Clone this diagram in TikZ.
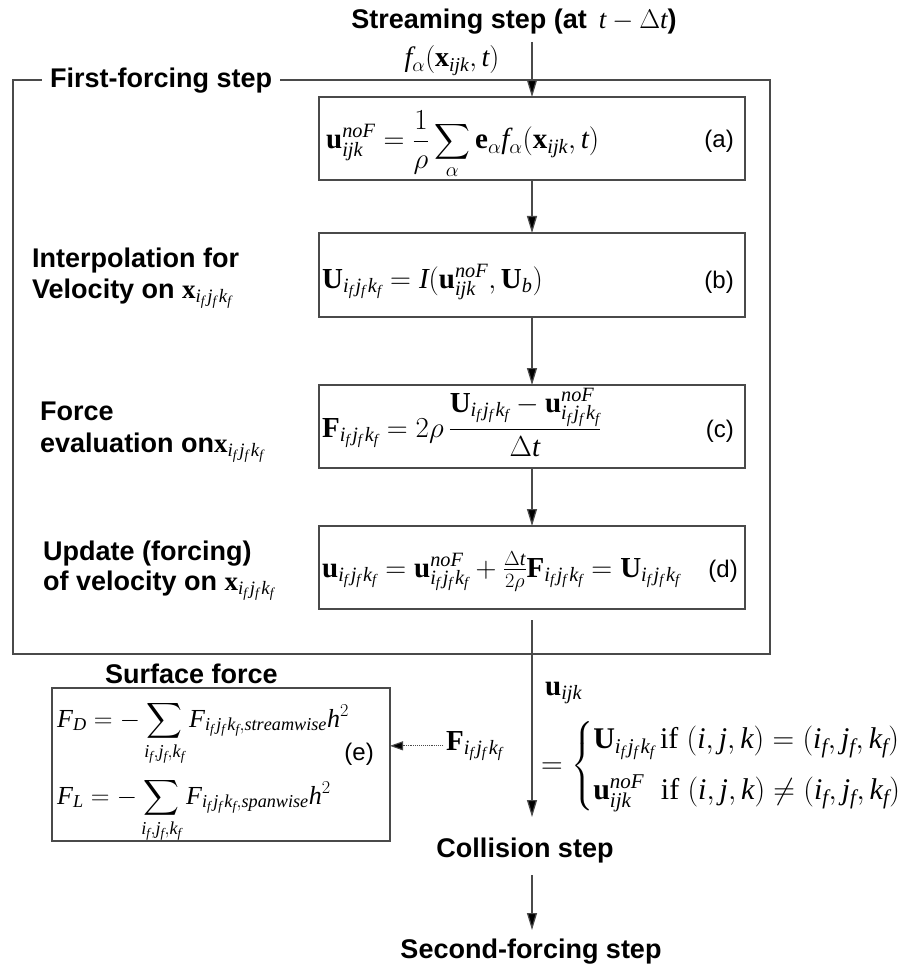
\RequirePackage{fix-cm}
\documentclass[tikz,border=0pt]{standalone}
\usepackage{amsmath}
\usepackage[no-math]{fontspec}
\setmainfont{Liberation Sans}
\newfontfamily\tnr{Liberation Serif}[NFSSFamily=tnrx]
\DeclareSymbolFont{tletters}{TU}{tnrx}{m}{it}
\newcount\lettercnt
\lettercnt=`a
\loop
  \mathcode\lettercnt=\numexpr "7000+\symtletters*"100+\lettercnt\relax
  \advance\lettercnt by 1
\ifnum\lettercnt<123 \repeat
\lettercnt=`A
\loop
  \mathcode\lettercnt=\numexpr "7000+\symtletters*"100+\lettercnt\relax
  \advance\lettercnt by 1
\ifnum\lettercnt<91 \repeat
\usetikzlibrary{arrows.meta}
\newcommand{\bv}[1]{\text{\tnr\bfseries\upshape #1}}
\newcommand{\tif}{\text{\tnr\mdseries\upshape if}}
\newcommand{\ff}{{i_f\mkern2mu j_f\mkern2mu k_f}}
\definecolor{lineclr}{HTML}{4A4A4A}
\begin{document}
\begin{tikzpicture}[x=1pt,y=-1pt,
  font=\fontsize{27}{31}\selectfont\bfseries,
  boxnode/.style={draw=lineclr, line width=1.3pt, inner sep=0pt, outer sep=0pt},
  arr/.style={draw=lineclr, line width=1.2pt, -{Triangle[length=17pt,width=10pt,fill=black]}},
  dotarr/.style={draw=lineclr, line width=1.1pt, densely dotted, -{Triangle[length=13pt,width=9pt,fill=black]}},
  lbl/.style={anchor=base west, inner sep=0pt},
  eq/.style={anchor=base west, inner sep=0pt, font=\fontsize{29}{33}\selectfont\mdseries},
  eqs/.style={anchor=base west, inner sep=0pt, font=\fontsize{26}{30}\selectfont\mdseries},
  tag/.style={anchor=base east, inner sep=0pt, font=\fontsize{24}{28}\selectfont\mdseries}]
\useasboundingbox (0,0) rectangle (915,968);

% outer frame
\draw[lineclr, line width=1.3pt] (13,80) rectangle (770,654);
\node[lbl, fill=white, inner xsep=8pt, inner ysep=2pt, anchor=base west] (ftitle) at (42,88) {First-forcing step};

% streaming
\node[anchor=base, inner sep=0pt] (stream) at (514,29) {Streaming step (at \,$t-\Delta t$)};
\node[anchor=base, inner sep=0pt, font=\fontsize{28}{32}\selectfont\mdseries] (flbl) at (452,67) {$f_\alpha(\bv{x}_{ijk},t)$};
\coordinate (s0) at (532,42);

% boxes
\node[boxnode, minimum width=426pt, minimum height=83pt] (a) at (532,138.5) {};
\node[boxnode, minimum width=426pt, minimum height=84pt] (b) at (532,275) {};
\node[boxnode, minimum width=426pt, minimum height=83pt] (c) at (532,426.5) {};
\node[boxnode, minimum width=426pt, minimum height=83pt] (d) at (532,567.5) {};
\node[boxnode, minimum width=338pt, minimum height=153pt] (e) at (221,764.5) {};

% equations
\node[eq] (eqa) at (326,149) {$\displaystyle \bv{u}^{noF}_{ijk}=\frac{1}{\rho}\sum_{\alpha}\bv{e}_\alpha f_\alpha(\bv{x}_{ijk},t)$};
\node[tag] (taga) at (734,148) {(a)};
\node[eq] (eqb) at (322,288) {$\bv{U}_\ff=I(\bv{u}^{noF}_{ijk},\bv{U}_b)$};
\node[tag] (tagb) at (734,288) {(b)};
\node[eq] (eqc) at (322,437) {$\displaystyle \bv{F}_\ff=2\rho\,\frac{\bv{U}_\ff-\bv{u}^{noF}_\ff}{\Delta t}$};
\node[tag] (tagc) at (734,437) {(c)};
\node[eq] (eqd) at (322,577) {$\bv{u}_\ff=\bv{u}^{noF}_\ff+\tfrac{\Delta t}{2\rho}\bv{F}_\ff=\bv{U}_\ff$};
\node[tag] (tagd) at (738,577) {(d)};

% left labels
\node[lbl] (l1a) at (32,267) {Interpolation for};
\node[lbl] (l1b) at (32,298) {Velocity on {\mdseries$\bv{x}_\ff$}};
\node[lbl] (l2a) at (40,420) {Force};
\node[lbl] (l2b) at (40,452) {evaluation on{\mdseries$\bv{x}_\ff$}};
\node[lbl] (l3a) at (43,560) {Update (forcing)};
\node[lbl] (l3b) at (43,590) {of velocity on {\mdseries$\bv{x}_\ff$}};

% surface force
\node[anchor=base, inner sep=0pt] (sf) at (191.5,683) {Surface force};
\node[eqs] (fd) at (57,727) {$\displaystyle F_D=-\sum_{i_f,j_f,k_f}F_{\ff,streamwise}h^2$};
\node[tag] (tage) at (374,760) {(e)};
\node[eqs] (fl) at (57,804) {$\displaystyle F_L=-\sum_{i_f,j_f,k_f}F_{\ff,spanwise}h^2$};

% right side
\node[eq] (uijk) at (545,695) {$\bv{u}_{ijk}$};
\node[anchor=west, inner sep=0pt, font=\fontsize{30}{34}\selectfont\mdseries] (cases) at (541,766) {$=\begin{cases}\bv{U}_\ff\,\tif\ (i,j,k)=(i_f,j_f,k_f)\\[10pt] \bv{u}^{noF}_{ijk}\ \ \tif\ (i,j,k)\neq(i_f,j_f,k_f)\end{cases}$};
\node[eq] (Flbl) at (446,750) {$\bv{F}_\ff$};

% bottom steps
\node[anchor=base, inner sep=0pt] (coll) at (525,857) {Collision step};
\node[anchor=base, inner sep=0pt] (sec) at (531,958) {Second-forcing step};
\coordinate (dout) at (532,620);
\coordinate (collin) at (532,817);
\coordinate (c1) at (532,875);
\coordinate (c2) at (532,930);

% connectors
\draw[arr] (s0) -- (a.north);
\draw[arr] (a) -- (b);
\draw[arr] (b) -- (c);
\draw[arr] (c) -- (d);
\draw[arr] (dout) -- (collin);
\draw[arr] (c1) -- (c2);
\draw[dotarr] ([xshift=-3pt]Flbl.west) -- (e.east |- Flbl.west);
\end{tikzpicture}
\end{document}
